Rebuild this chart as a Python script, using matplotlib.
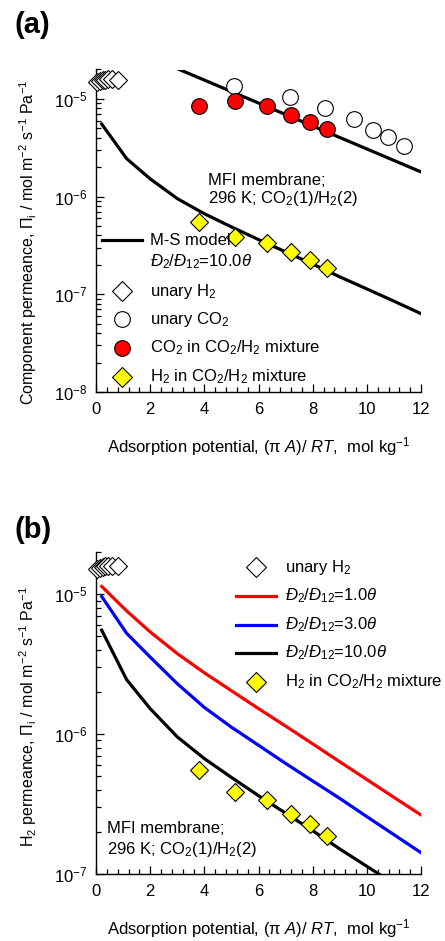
import matplotlib
matplotlib.use("Agg")
import matplotlib.pyplot as plt
from matplotlib.ticker import MultipleLocator, LogLocator, NullFormatter

plt.rcParams["font.family"] = ["Liberation Sans", "DejaVu Sans"]
plt.rcParams["mathtext.fontset"] = "custom"
plt.rcParams["mathtext.rm"] = "Liberation Sans"
plt.rcParams["mathtext.it"] = "Liberation Sans:italic"
plt.rcParams["mathtext.bf"] = "Liberation Sans:bold"
plt.rcParams["mathtext.sf"] = "Liberation Sans"

# ---- experimental data ------------------------------------------------------
unary_h2_x = [0.05, 0.15, 0.25, 0.35, 0.45, 0.60, 0.80]
unary_h2_y = [1.50e-5, 1.53e-5, 1.56e-5, 1.58e-5, 1.60e-5, 1.60e-5, 1.58e-5]

unary_co2_x = [5.10, 7.16, 8.46, 9.53, 10.22, 10.78, 11.37]
unary_co2_y = [1.37e-5, 1.05e-5, 8.15e-6, 6.25e-6, 4.83e-6, 4.09e-6, 3.33e-6]

mix_co2_x = [3.81, 5.14, 6.30, 7.20, 7.90, 8.52]
mix_co2_y = [8.5e-6, 9.5e-6, 8.5e-6, 6.9e-6, 5.8e-6, 4.9e-6]

mix_h2_x = [3.81, 5.14, 6.30, 7.20, 7.90, 8.52]
mix_h2_y = [5.5e-7, 3.85e-7, 3.38e-7, 2.70e-7, 2.26e-7, 1.87e-7]

# ---- Maxwell-Stefan model curves --------------------------------------------
ms_co2_x = [3.04, 5.0, 7.0, 9.0, 12.0]
ms_co2_y = [2.02e-5, 1.19e-5, 6.92e-6, 4.03e-6, 1.79e-6]

model_x = [0.21, 1.13, 2.0, 3.0, 4.0, 5.0, 6.0, 7.0, 8.0, 9.0, 10.0, 11.0, 12.0]
ms_h2_d1 = [1.135e-5, 7.59e-6, 5.37e-6, 3.76e-6, 2.74e-6, 2.04e-6, 1.52e-6,
            1.14e-6, 8.51e-7, 6.34e-7, 4.73e-7, 3.53e-7, 2.64e-7]
ms_h2_d3 = [9.62e-6, 5.25e-6, 3.55e-6, 2.29e-6, 1.55e-6, 1.12e-6, 8.32e-7,
            6.17e-7, 4.62e-7, 3.47e-7, 2.57e-7, 1.91e-7, 1.42e-7]
ms_h2_d10 = [5.53e-6, 2.45e-6, 1.52e-6, 9.55e-7, 6.68e-7, 4.90e-7, 3.63e-7,
             2.72e-7, 2.04e-7, 1.51e-7, 1.135e-7, 8.51e-8, 6.34e-8]

x_ticks = [0, 2, 4, 6, 8, 10, 12]

# ---- labels -----------------------------------------------------------------
ratio_lbl = [r"$\mathit{Đ}_2/\mathit{Đ}_{12}$=%s$\theta$" % v for v in ["1.0", "3.0", "10.0"]]
xlabel = (r"Adsorption potential, ($\mathrm{\pi}$ $\mathit{A}$)/ $\mathit{RT}$,"
          r"  mol kg$^{-1}$")
ylabel_a = (r"Component permeance, $\Pi_{\mathrm{i}}$ / mol m$^{-2}$ s$^{-1}$ Pa$^{-1}$")
ylabel_b = (r"H$_2$ permeance, $\Pi_{\mathrm{i}}$ / mol m$^{-2}$ s$^{-1}$ Pa$^{-1}$")
cond_lines = ["MFI membrane;", r"296 K; CO$_2$(1)/H$_2$(2)"]

FS = 12
LW = 2.3
RED = "#ff0000"
BLUE = "#0000ff"
YEL = "#ffff00"

fig = plt.figure(figsize=(4.45, 9.41), dpi=100)
W, H = 445.0, 941.0
axa = fig.add_axes([96 / W, 1 - 392 / H, 325 / W, 322.5 / H])
axb = fig.add_axes([96 / W, 1 - 874 / H, 325 / W, 322 / H])


def style(ax, ylim):
    ax.set_yscale("log")
    ax.set_xlim(0, 12)
    ax.set_ylim(*ylim)
    for s in ("top", "right"):
        ax.spines[s].set_visible(False)
    for s in ("left", "bottom"):
        ax.spines[s].set_linewidth(1.0)
    ax.set_xticks(x_ticks)
    ax.xaxis.set_minor_locator(MultipleLocator(0.4))
    ax.yaxis.set_major_locator(LogLocator(base=10, numticks=12))
    ax.yaxis.set_minor_locator(LogLocator(base=10, subs=range(2, 10), numticks=40))
    ax.yaxis.set_minor_formatter(NullFormatter())
    ax.tick_params(which="both", direction="in", top=False, right=False,
                   labelsize=12, width=0.9)
    ax.tick_params(which="major", length=6)
    ax.tick_params(which="minor", length=3.4)
    ax.tick_params(axis="x", pad=7)
    ax.tick_params(axis="y", pad=6)
    ax.text(0.5, -0.17, xlabel, transform=ax.transAxes, ha="center",
            va="center", fontsize=FS)


def key_line(ax, x0, x1, y, color):
    ax.plot([x0, x1], [y, y], color=color, lw=LW, transform=ax.transAxes,
            clip_on=False)


def key_marker(ax, x, y, **kw):
    ax.plot([x], [y], transform=ax.transAxes, clip_on=False, ls="none", **kw)


diamond_kw = dict(marker="D", markersize=9.5, markeredgecolor="black",
                  markeredgewidth=0.8)
circle_kw = dict(marker="o", markersize=11.3, markeredgecolor="black",
                 markeredgewidth=0.8)
mk = dict(diamond_kw, markersize=10.0)

# ---------------------------- panel (a) --------------------------------------
style(axa, (1e-8, 2e-5))
axa.plot(ms_co2_x, ms_co2_y, color="black", lw=LW, zorder=2)
axa.plot(model_x, ms_h2_d10, color="black", lw=LW, zorder=2)
axa.plot(unary_h2_x, unary_h2_y, ls="none", markerfacecolor="white",
         zorder=3, clip_on=False, **diamond_kw)
axa.plot(unary_co2_x, unary_co2_y, ls="none", markerfacecolor="white",
         zorder=3, **circle_kw)
axa.plot(mix_co2_x, mix_co2_y, ls="none", markerfacecolor=RED, zorder=3,
         **circle_kw)
axa.plot(mix_h2_x, mix_h2_y, ls="none", markerfacecolor=YEL, zorder=3,
         **diamond_kw)

axa.text(0.345, 0.642, cond_lines[0], transform=axa.transAxes, fontsize=FS,
         va="baseline")
axa.text(0.345, 0.586, cond_lines[1], transform=axa.transAxes, fontsize=FS,
         va="baseline")

tx = 0.166
key_line(axa, 0.018, 0.142, 0.471, "black")
axa.text(tx, 0.471, "M-S model", transform=axa.transAxes, fontsize=FS,
         va="center")
axa.text(tx, 0.405, ratio_lbl[2], transform=axa.transAxes, fontsize=FS,
         va="center")
key_marker(axa, 0.08, 0.313, markerfacecolor="white", **mk)
axa.text(tx, 0.313, r"unary H$_2$", transform=axa.transAxes, fontsize=FS,
         va="center")
key_marker(axa, 0.08, 0.226, markerfacecolor="white", **circle_kw)
axa.text(tx, 0.226, r"unary CO$_2$", transform=axa.transAxes, fontsize=FS,
         va="center")
key_marker(axa, 0.08, 0.136, markerfacecolor=RED, **circle_kw)
axa.text(tx, 0.136, r"CO$_2$ in CO$_2$/H$_2$ mixture", transform=axa.transAxes,
         fontsize=FS, va="center")
key_marker(axa, 0.08, 0.047, markerfacecolor=YEL, **mk)
axa.text(tx, 0.047, r"H$_2$ in CO$_2$/H$_2$ mixture", transform=axa.transAxes,
         fontsize=FS, va="center")

axa.text(-0.209, 0.465, ylabel_a, transform=axa.transAxes, rotation=90,
         ha="center", va="center", fontsize=11.5)

# ---------------------------- panel (b) --------------------------------------
style(axb, (1e-7, 2e-5))
axb.plot(model_x, ms_h2_d1, color=RED, lw=LW, zorder=2)
axb.plot(model_x, ms_h2_d3, color=BLUE, lw=LW, zorder=2)
axb.plot(model_x, ms_h2_d10, color="black", lw=LW, zorder=2)
axb.plot(unary_h2_x, unary_h2_y, ls="none", markerfacecolor="white",
         zorder=3, clip_on=False, **diamond_kw)
axb.plot(mix_h2_x, mix_h2_y, ls="none", markerfacecolor=YEL, zorder=3,
         **diamond_kw)

axb.text(0.034, 0.127, cond_lines[0], transform=axb.transAxes, fontsize=FS,
         va="baseline")
axb.text(0.034, 0.062, cond_lines[1], transform=axb.transAxes, fontsize=FS,
         va="baseline")

tx = 0.582
key_marker(axb, 0.492, 0.953, markerfacecolor="white", **mk)
axb.text(tx, 0.953, r"unary H$_2$", transform=axb.transAxes, fontsize=FS,
         va="center")
for y, c, lbl in zip([0.863, 0.773, 0.686], [RED, BLUE, "black"], ratio_lbl):
    key_line(axb, 0.431, 0.554, y, c)
    axb.text(tx, y, lbl, transform=axb.transAxes, fontsize=FS, va="center")
key_marker(axb, 0.492, 0.596, markerfacecolor=YEL, **mk)
axb.text(tx, 0.596, r"H$_2$ in CO$_2$/H$_2$ mixture", transform=axb.transAxes,
         fontsize=FS, va="center")

axb.text(-0.209, 0.49, ylabel_b, transform=axb.transAxes, rotation=90,
         ha="center", va="center", fontsize=11.5)

fig.text(15 / W, 1 - 11 / H, "(a)", fontsize=21, fontweight="bold",
         ha="left", va="top")
fig.text(15 / W, 1 - 516 / H, "(b)", fontsize=21, fontweight="bold",
         ha="left", va="top")

fig.savefig("out.png", dpi=100)
